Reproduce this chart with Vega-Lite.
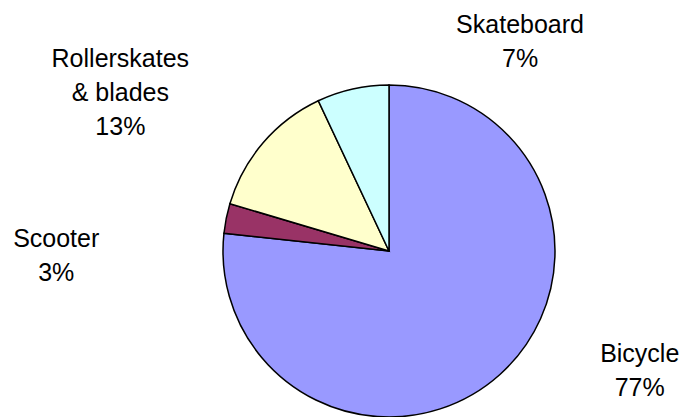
{
  "$schema": "https://vega.github.io/schema/vega-lite/v6.json",
  "width": 592,
  "height": 332,
  "autosize": {"type": "none"},
  "padding": {"left": 93, "top": 85, "right": 0, "bottom": 0},
  "background": "white",
  "config": {"view": {"stroke": null}},
  "data": {
    "values": [
      {"category": "Bicycle", "rank": 1, "value": 76.7, "label": "Bicycle\n77%"},
      {"category": "Scooter", "rank": 2, "value": 2.9, "label": "Scooter\n3%"},
      {"category": "Rollerskates & blades", "rank": 3, "value": 13.4, "label": "Rollerskates\n& blades\n13%"},
      {"category": "Skateboard", "rank": 4, "value": 7.0, "label": "Skateboard\n7%"}
    ]
  },
  "layer": [
    {
      "mark": {"type": "arc", "radius": 166, "stroke": "black", "strokeWidth": 1.5},
      "encoding": {
        "theta": {"field": "value", "type": "quantitative", "stack": true},
        "order": {"field": "rank", "type": "quantitative", "sort": "ascending"},
        "color": {
          "field": "category",
          "type": "nominal",
          "scale": {
            "domain": ["Bicycle", "Scooter", "Rollerskates & blades", "Skateboard"],
            "range": ["#9999FF", "#993366", "#FFFFCC", "#CCFFFF"]
          },
          "legend": null
        }
      }
    },
    {
      "transform": [{"filter": "datum.category === 'Bicycle'"}],
      "mark": {"type": "text", "theta": 1.96, "radius": 271, "font": "Liberation Sans", "fontSize": 25, "lineHeight": 34, "lineBreak": "\n", "align": "center", "baseline": "middle", "color": "black"},
      "encoding": {"text": {"field": "label"}}
    },
    {
      "transform": [{"filter": "datum.category === 'Scooter'"}],
      "mark": {"type": "text", "theta": 4.748, "radius": 333, "font": "Liberation Sans", "fontSize": 25, "lineHeight": 34, "lineBreak": "\n", "align": "center", "baseline": "middle", "color": "black"},
      "encoding": {"text": {"field": "label"}}
    },
    {
      "transform": [{"filter": "datum.category === 'Rollerskates & blades'"}],
      "mark": {"type": "text", "theta": 5.332, "radius": 330, "font": "Liberation Sans", "fontSize": 25, "lineHeight": 34, "lineBreak": "\n", "align": "center", "baseline": "middle", "color": "black"},
      "encoding": {"text": {"field": "label"}}
    },
    {
      "transform": [{"filter": "datum.category === 'Skateboard'"}],
      "mark": {"type": "text", "theta": 0.526, "radius": 261, "font": "Liberation Sans", "fontSize": 25, "lineHeight": 34, "lineBreak": "\n", "align": "center", "baseline": "middle", "color": "black"},
      "encoding": {"text": {"field": "label"}}
    }
  ]
}
